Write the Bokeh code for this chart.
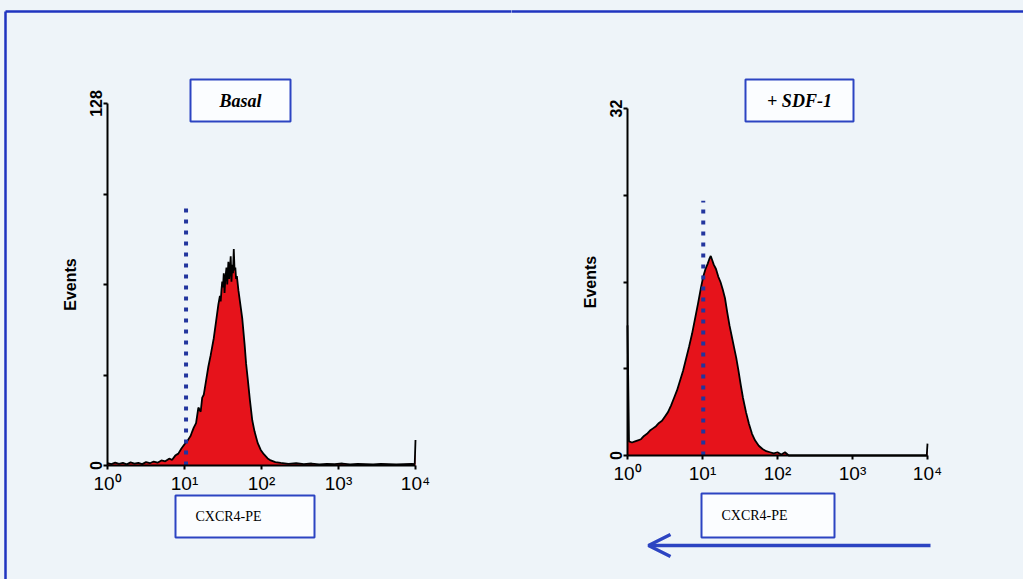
import numpy as np
from bokeh.plotting import figure
from bokeh.layouts import row
from bokeh.models import FixedTicker, Arrow, OpenHead, Range1d
from bokeh.core.properties import value
from bokeh.embed import file_html
from bokeh.resources import INLINE

# ---------------- data ----------------
decade_ticks = [0, 1, 2, 3, 4]
decade_labels = ["10⁰", "10¹", "10²", "10³", "10⁴"]

panel_titles = ["Basal", "+ SDF-1"]
x_label = "CXCR4-PE"
y_label = "Events"

# log10 fluorescence (CXCR4-PE) and event counts, Basal
basal_log = [0.00, 0.05, 0.10, 0.15, 0.20, 0.25, 0.30, 0.35, 0.40, 0.45, 0.50, 0.55,
             0.60, 0.65, 0.70, 0.75, 0.80, 0.84, 0.88, 0.92, 0.96, 1.00, 1.04, 1.08,
             1.10, 1.12, 1.15, 1.18, 1.21, 1.23, 1.25, 1.28, 1.31, 1.34, 1.38, 1.41,
             1.44, 1.46, 1.47, 1.48, 1.49, 1.50, 1.51, 1.52, 1.53, 1.545, 1.555, 1.57,
             1.58, 1.59, 1.60, 1.61, 1.62, 1.63, 1.64, 1.65, 1.66, 1.67,
             1.68, 1.70, 1.72, 1.75, 1.78, 1.80, 1.82, 1.85, 1.88, 1.91, 1.95, 1.99,
             2.03, 2.08, 2.12, 2.18, 2.25, 2.35, 2.45, 2.55, 2.65, 2.75, 2.85, 2.95,
             3.05, 3.15, 3.25, 3.35, 3.45, 3.55, 3.65, 3.75, 3.85, 3.95, 3.99, 4.00]
basal_counts = [0.8, 0.5, 1.0, 0.6, 0.9, 0.4, 1.1, 0.7, 0.9, 0.5, 1.2, 0.8,
                1.4, 1.0, 1.8, 1.5, 2.4, 2.0, 3.5, 4.2, 6.0, 7.5, 8.8, 10.5,
                12.0, 13.4, 15.0, 20.5, 19.0, 24.0, 25.0, 30.0, 35.0, 39.0, 45.0, 51.0,
                57.0, 60.0, 58.0, 62.0, 65.0, 63.0, 68.0, 61.0, 66.0, 70.0, 64.0, 72.0,
                66.0, 69.0, 74.0, 65.0, 71.0, 68.0, 76.5, 69.0, 70.0, 66.0,
                67.0, 62.0, 58.0, 52.0, 43.0, 36.0, 31.0, 23.0, 16.0, 12.0, 8.0, 5.5,
                4.0, 2.5, 1.8, 1.2, 0.9, 0.6, 0.8, 0.5, 0.7, 0.4, 0.6, 0.5,
                0.7, 0.4, 0.6, 0.5, 0.4, 0.6, 0.5, 0.4, 0.5, 0.6, 0.5, 9.0]

# log10 fluorescence and event counts, + SDF-1
sdf_log = [0.00, 0.02, 0.06, 0.10, 0.14, 0.18, 0.22, 0.26, 0.30, 0.34, 0.38, 0.42,
           0.46, 0.50, 0.54, 0.58, 0.62, 0.66, 0.70, 0.74, 0.78, 0.82, 0.86, 0.90,
           0.94, 0.98, 1.01, 1.04, 1.07, 1.09, 1.11, 1.13, 1.15, 1.18, 1.21, 1.24,
           1.27, 1.30, 1.33, 1.36, 1.39, 1.42, 1.45, 1.48, 1.51, 1.54, 1.58, 1.62,
           1.66, 1.70, 1.75, 1.80, 1.85, 1.90, 1.95, 2.00, 2.05, 2.10, 2.15, 2.50,
           3.00, 3.50, 3.99, 4.00]
sdf_counts = [12.0, 1.3, 1.2, 1.3, 1.4, 1.5, 1.8, 2.0, 2.3, 2.5, 2.7, 3.0,
              3.2, 3.6, 4.0, 4.6, 5.3, 6.0, 6.9, 7.8, 8.9, 10.0, 11.2, 12.6,
              14.0, 15.5, 16.5, 17.2, 17.7, 18.1, 18.4, 18.0, 17.6, 17.2, 16.5, 16.0,
              15.3, 14.5, 13.2, 12.0, 11.0, 10.0, 9.0, 7.8, 6.5, 5.3, 4.0, 2.9,
              2.0, 1.4, 0.9, 0.6, 0.4, 0.3, 0.2, 0.3, 0.1, 0.3, 0.0, 0.0,
              0.0, 0.0, 0.0, 1.1]

y_max = [128, 32]
y_ticks = [[0, 32, 64, 96, 128], [0, 8, 16, 24, 32]]
threshold_log = [1.02, 1.01]
threshold_height = [92, 23.5]

# ---------------- style ----------------
BG = "#eef4f9"
BLUE = "#2c44c2"
FRAME_BLUE = "#1f34bf"
DOT_BLUE = "#22359e"
RED = "#e6131b"
H = 579
SANS = "Liberation Sans"
SERIF = "Liberation Serif"


def make_panel(idx, width, x0px, x4px, y0px, ytoppx, xs, ys, title_box, label_box,
               frame_left=None):
    ymax = y_max[idx]
    sx = (x4px - x0px) / 4.0
    sy = (y0px - ytoppx) / ymax

    def X(px):
        return (px - x0px) / sx

    def Y(py):
        return (y0px - py) / sy

    p = figure(width=width, height=H, output_backend="svg", toolbar_location=None,
               x_range=Range1d(X(0), X(width)), y_range=Range1d(Y(H), Y(0)),
               min_border=0, background_fill_color=BG, border_fill_color=BG,
               outline_line_color=None)
    p.grid.visible = False

    xa = p.xaxis[0]
    xa.fixed_location = 0
    xa.bounds = (0, 4)
    xa.ticker = FixedTicker(ticks=decade_ticks)
    xa.major_label_overrides = dict(zip(decade_ticks, decade_labels))
    xa.minor_tick_line_color = None
    xa.axis_line_width = 2
    xa.major_tick_line_width = 2
    xa.major_tick_out = 4
    xa.major_tick_in = 0
    xa.major_label_standoff = 3
    xa.major_label_text_font = SANS
    xa.major_label_text_font_size = "19px"
    xa.major_label_text_color = "black"

    ya = p.yaxis[0]
    ya.fixed_location = 0
    ya.bounds = (0, ymax)
    ya.ticker = FixedTicker(ticks=y_ticks[idx])
    ya.major_label_overrides = {t: (str(t) if t in (0, ymax) else "") for t in y_ticks[idx]}
    ya.major_label_orientation = "vertical"
    ya.minor_tick_line_color = None
    ya.axis_line_width = 2
    ya.major_tick_line_width = 2
    ya.major_tick_out = 4
    ya.major_tick_in = 0
    ya.major_label_standoff = 2
    ya.major_label_text_font = SANS
    ya.major_label_text_font_size = "16px"
    ya.major_label_text_font_style = "bold"
    ya.major_label_text_color = "black"
    ya.axis_label = y_label
    ya.axis_label_text_font = SANS
    ya.axis_label_text_font_size = "16px"
    ya.axis_label_text_font_style = "bold"
    ya.axis_label_text_color = "black"
    ya.axis_label_standoff = 8

    # histogram
    p.varea(x=xs, y1=0, y2=ys, fill_color=RED)
    p.line(x=xs, y=ys, line_color="black", line_width=1.8)

    # threshold line
    p.line(x=[threshold_log[idx], threshold_log[idx]], y=[0, threshold_height[idx]],
           line_color=DOT_BLUE, line_width=4, line_dash="4 7")

    # title box
    l, r, t, b = title_box
    p.quad(left=[X(l)], right=[X(r)], top=[Y(t)], bottom=[Y(b)],
           fill_color="#fbfdff", line_color=BLUE, line_width=2)
    p.text(x=[X((l + r) / 2)], y=[Y((t + b) / 2)], text=[panel_titles[idx]],
           text_align="center", text_baseline="middle", text_font=value(SERIF),
           text_font_style="bold italic", text_font_size="18px", text_color="black")

    # x label box
    l, r, t, b = label_box
    p.quad(left=[X(l)], right=[X(r)], top=[Y(t)], bottom=[Y(b)],
           fill_color="#fbfdff", line_color=BLUE, line_width=2)
    p.text(x=[X(l + 20)], y=[Y((t + b) / 2)], text=[x_label],
           text_align="left", text_baseline="middle", text_font=value(SERIF),
           text_font_size="14px", text_color="black")

    # outer blue frame
    top_px = 11
    p.line(x=[X(frame_left if frame_left is not None else -2), X(width + 2)],
           y=[Y(top_px), Y(top_px)], line_color=FRAME_BLUE, line_width=2.5)
    if frame_left is not None:
        p.line(x=[X(frame_left), X(frame_left)], y=[Y(top_px), Y(H)],
               line_color=FRAME_BLUE, line_width=2.5)
    return p, X, Y


left, LX, LY = make_panel(0, 511, 107, 415, 465, 103, basal_log, basal_counts,
                          (190, 290, 79, 121), (175, 314, 495, 537), frame_left=5)

right, RX, RY = make_panel(1, 512, 627 - 511, 927 - 511, 455, 108, sdf_log, sdf_counts,
                           (745 - 511, 853 - 511, 79, 121), (701 - 511, 834 - 511, 493, 537))

right.add_layout(Arrow(end=OpenHead(size=22, line_color=BLUE, line_width=3.5),
                       x_start=RX(930 - 511), y_start=RY(545),
                       x_end=RX(648 - 511), y_end=RY(545),
                       line_color=BLUE, line_width=3.5))

layout = row(left, right, spacing=0, styles={"background-color": BG})
open("out.html", "w").write(file_html(layout, INLINE))
